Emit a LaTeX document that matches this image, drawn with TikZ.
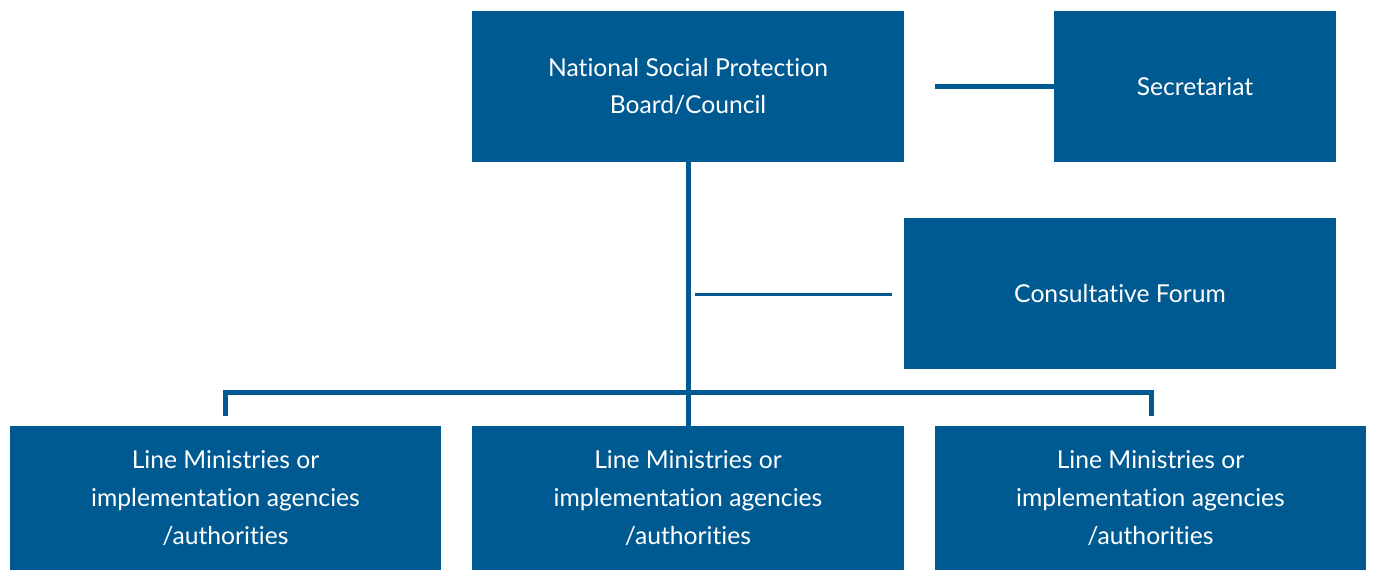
\documentclass[tikz,border=0pt]{standalone}
\usepackage{fontspec}
\setmainfont{Lato}[Ligatures={NoCommon,NoRare,NoDiscretionary}]
\definecolor{govblue}{RGB}{0,90,146}

\tikzset{
    orgbox/.style={fill=govblue, text=white, align=center, inner sep=0pt,
        font=\fontsize{18.5}{28.3}\selectfont},
    thickline/.style={draw=govblue, line width=3.75pt},
    thinline/.style={draw=govblue, line width=2.25pt}
}

\begin{document}
\begin{tikzpicture}[x=0.75pt,y=-0.75pt]
    \useasboundingbox (0,0) rectangle (1373,570);

    \node [orgbox, minimum width=324pt, minimum height=113.25pt] (board) at (688,86.5)
        {National Social Protection\\Board/Council};                  % top box
    \node [orgbox, minimum width=211.5pt, minimum height=113.25pt] (secretariat) at (1195,86.5)
        {Secretariat};
    \node [orgbox, minimum width=324pt, minimum height=113.25pt] (forum) at (1120,293.5)
        {Consultative Forum};

    \node [orgbox, minimum width=323.25pt, minimum height=108pt] (lineA) at (225.5,498)
        {Line Ministries or\\implementation agencies\\/authorities};
    \node [orgbox, minimum width=324pt, minimum height=108pt] (lineB) at (688,498)
        {Line Ministries or\\implementation agencies\\/authorities};
    \node [orgbox, minimum width=323.25pt, minimum height=108pt] (lineC) at (1150.5,498)
        {Line Ministries or\\implementation agencies\\/authorities};

    \coordinate (secstart) at (935,86.5);
    \coordinate (forumleft) at (695,294);
    \coordinate (forumright) at (892,294);
    \coordinate (barleft) at (225,416);
    \coordinate (barright) at (1151,416);
    \coordinate (barmid) at (688,392);

    \draw [thickline] (secstart) -- (secretariat.west);             % link to secretariat
    \draw [thickline] (board.south) -- (lineB.north);                % main stem
    \draw [thinline] (forumleft) -- (forumright);                    % link to forum
    \draw [thickline] (barleft) |- (barmid) -| (barright);           % branch bar
\end{tikzpicture}
\end{document}
